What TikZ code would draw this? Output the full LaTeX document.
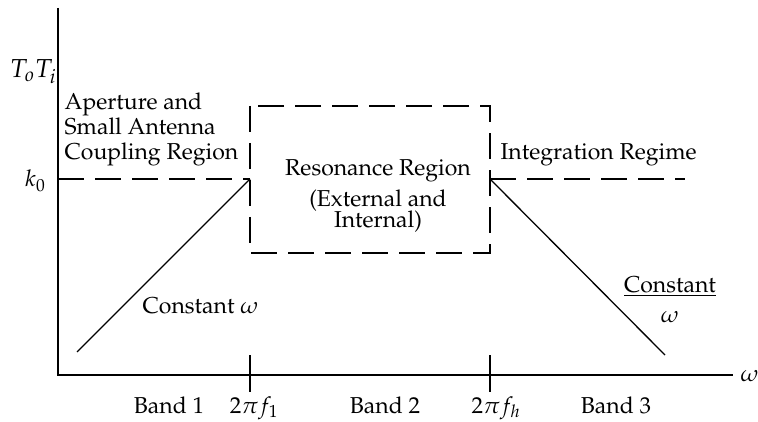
\documentclass[tikz,border=0pt]{standalone}
\usepackage{amsmath}
\usepackage[T1]{fontenc}
\usepackage{mathpazo}
\usetikzlibrary{arrows,positioning}

\begin{document}
\begin{tikzpicture}[x=1pt,y=-1pt,line width=1.3pt,font=\fontsize{23}{25}\selectfont]
    \tikzstyle{every node}=[inner sep=0pt]
    \tikzstyle{dashline}=[dash pattern=on 26pt off 11pt,line width=1.8pt]
    \tikzstyle{axis}=[line width=1.8pt]

    \useasboundingbox (0,0) rectangle (758,422);

    \coordinate (O)    at (58,375);
    \coordinate (Ytop) at (58,8);
    \coordinate (Xend) at (733,375);
    \coordinate (K)    at (58,179);
    \coordinate (P1)   at (250,179);
    \coordinate (P2)   at (490,179);
    \coordinate (Kend) at (685,179);
    \coordinate (L)    at (77,352);
    \coordinate (R)    at (665,355);
    \coordinate (BoxA) at (250,106);
    \coordinate (BoxB) at (490,253);
    \coordinate (T1a)  at (250,355);
    \coordinate (T1b)  at (250,392);
    \coordinate (Tha)  at (490,355);
    \coordinate (Thb)  at (490,392);

    \node[anchor=base east] (ylab) at (57,78)  {\fontsize{26}{28}\selectfont$T_oT_i$};
    \node[anchor=base east] (k0)   at (46,187) {$k_0$};
    \node[anchor=base west] (wlab) at (740,381) {$\omega$};

    \node[anchor=north west,align=left] (aper) at (64,92) {Aperture and\\Small Antenna\\Coupling Region};
    \node[anchor=base] (reson) at (378,176) {Resonance Region};
    \node[anchor=base] (ext)   at (378,207) {(External and};
    \node[anchor=base] (int)   at (378,228) {Internal)};
    \node[anchor=base west] (integ) at (500,160) {Integration Regime};
    \node[anchor=base west] (const1) at (142,313) {Constant $\omega$};
    \node[anchor=base] (const2) at (670,292) {\underline{Constant}};
    \node[anchor=base] (w2) at (670,322) {$\omega$};

    \node[anchor=base] (band1) at (169,413) {Band 1};
    \node[anchor=base] (f1)    at (254,413) {$2\pi f_1$};
    \node[anchor=base] (band2) at (385,413) {Band 2};
    \node[anchor=base] (fh)    at (496,413) {$2\pi f_h$};
    \node[anchor=base] (band3) at (616,413) {Band 3};

    % axes and ticks
    \draw[axis] (Ytop) -- (O) -- (Xend);
    \draw[axis] (T1a) -- (T1b);
    \draw[axis] (Tha) -- (Thb);

    % k0 level and resonance box
    \draw[dashline] (K) -- (P1);
    \draw[dashline] (P2) -- (Kend);
    \draw[dashline] (BoxA) rectangle (BoxB);

    % slopes
    \draw (L) -- (P1);
    \draw (P2) -- (R);
\end{tikzpicture}
\end{document}
